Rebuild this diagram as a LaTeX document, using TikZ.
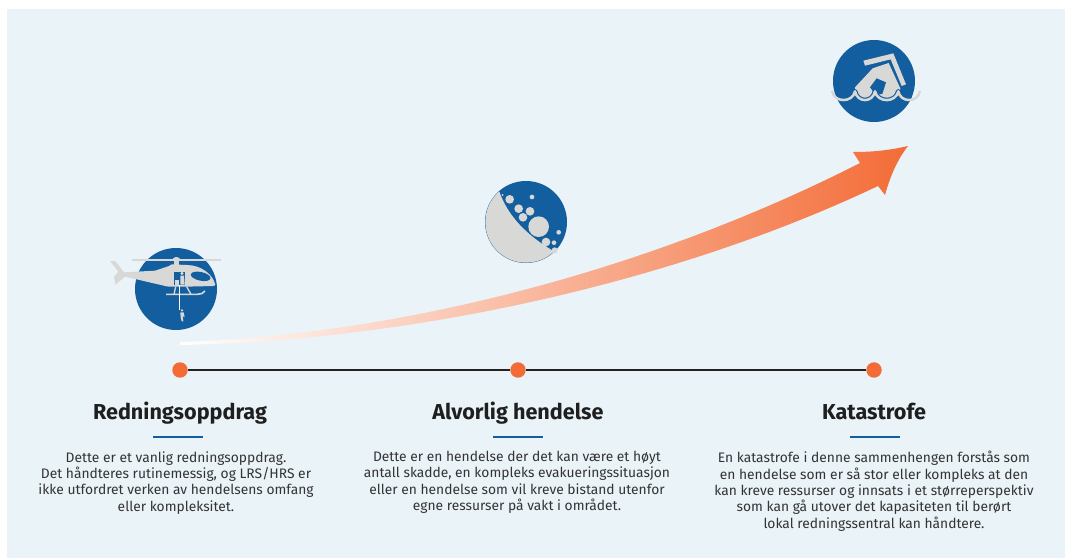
\documentclass[tikz,border=0pt]{standalone}
\usepackage{fontspec}
\setmainfont{Fira Sans}
\usetikzlibrary{positioning}
\usetikzlibrary{calc}

\definecolor{panelbg}{HTML}{EAF3F8}
\definecolor{iconblue}{HTML}{125E9F}
\definecolor{icongrey}{HTML}{D8D8D6}
\definecolor{arroworange}{HTML}{F36C37}
\definecolor{linedark}{HTML}{222222}
\definecolor{bodytext}{HTML}{333333}

\newcommand{\wavepath}{(36,183) .. controls (42,219) and (98,219) .. (105,184)
    .. controls (112,219) and (158,219) .. (165,184)
    .. controls (172,219) and (228,219) .. (235,184)
    .. controls (241,219) and (294,219) .. (300,183)}

\tikzset{
    stagedot/.style={circle,fill=arroworange,draw=none,minimum size=11.6pt,inner sep=0pt},
    stagetitle/.style={font=\fontsize{16.2}{18}\selectfont\bfseries,text=black!88,inner sep=0pt,anchor=base},
    stagetext/.style={font=\fontsize{10.35}{12.25}\selectfont,text=bodytext,align=center,inner sep=0pt,anchor=north},
    stagebar/.style={draw=iconblue,line width=1.9pt},
    iconback/.style={circle,fill=iconblue,draw=none,minimum size=61.5pt,inner sep=0pt},
    greypart/.style={fill=icongrey,draw=none},
    bluepart/.style={fill=iconblue,draw=none},
}

\begin{document}
\begin{tikzpicture}[x=0.75pt,y=-0.75pt]
    \useasboundingbox (0,0) rectangle (1065,558);
    \fill[panelbg] (7,9) rectangle (1065,558);

    % rising arrow
    \shade[left color=white,right color=arroworange,middle color=arroworange!50!white,draw=none]
        (180,342) .. controls (400,335) and (650,270) .. (860,163)
        -- (853,152) .. controls (875,152) and (890,150) .. (908,146)
        .. controls (897,160) and (890,177) .. (885,195)
        -- (878,186) .. controls (680,280) and (420,340) .. (180,345) -- cycle;

    % timeline
    \node[stagedot] (dotRescue) at (180,370) {};
    \node[stagedot] (dotSerious) at (518,370) {};
    \node[stagedot] (dotDisaster) at (874,370) {};
    \draw[linedark,line width=1.9pt] (dotRescue) -- (dotSerious);
    \draw[linedark,line width=1.9pt] (dotSerious) -- (dotDisaster);

    % helicopter
    \node[iconback] (iconRescue) at (176,289) {};
    \begin{scope}[shift={(90,230)},x=0.25pt,y=-0.25pt]
        \draw[icongrey,line width=1.1pt] (125,90) -- (393,90);
        \fill[greypart] (246,90) .. controls (250,78) and (268,78) .. (272,90) -- cycle;
        \fill[greypart] (253,90) rectangle (267,110);
        \fill[greypart] (60,93) -- (76,93) -- (102,127) -- (195,122) -- (237,108) -- (245,103) -- (290,105)
            .. controls (335,105) and (370,135) .. (376,165)
            -- (370,168) -- (285,170) -- (235,170) .. controls (190,160) and (150,150) .. (105,140)
            -- (76,164) -- (72,140) -- (85,125) -- cycle;
        \fill[bluepart] (252,125) rectangle (285,166);
        \fill[bluepart,rotate around={-12:(332,139)}] (332,139) ellipse (30 and 13);
        \fill[greypart] (276,130) circle (5);
        \fill[greypart] (271,137) -- (282,137) -- (284,164) -- (271,164) -- cycle;
        \fill[greypart] (256,150) rectangle (268,164);
        \draw[icongrey,line width=1pt] (257,170) -- (252,193);
        \draw[icongrey,line width=1pt] (290,170) -- (303,193);
        \draw[icongrey,line width=1.2pt] (228,193) -- (322,193) .. controls (332,193) and (340,190) .. (345,183);
        \draw[white,line width=0.4pt] (269,166) -- (269,240);
        \fill[icongrey] (276,241) circle (4);
        \fill[icongrey] (271,247) -- (281,247) -- (284,262) -- (278,258) -- (280,274) -- (275,274) -- (272,262) -- cycle;
    \end{scope}

    % rock slide
    \node[iconback] (iconSerious) at (526,222) {};
    \begin{scope}[shift={(470,170)},x=0.25pt,y=-0.25pt]
        \begin{scope}
            \clip (168,156) circle (122);
            \fill[greypart] (88,65) .. controls (115,140) and (170,195) .. (250,243)
                -- (250,290) -- (30,290) -- (30,65) -- cycle;
        \end{scope}
        \fill[greypart] (119,88) circle (13);
        \fill[greypart] (186,81) circle (7);
        \fill[greypart] (146,116) circle (13);
        \fill[greypart] (180,124) circle (13);
        \fill[greypart] (159,142) circle (13);
        \fill[greypart] (206,170) circle (31);
        \fill[greypart] (228,216) circle (13);
        \fill[greypart] (266,187) circle (7);
        \fill[greypart] (252,218) circle (7);
        \fill[greypart] (254,241) circle (9);
        \fill[greypart] (98,75) circle (3);
    \end{scope}

    % flooded house
    \node[iconback] (iconDisaster) at (874,81) {};
    \begin{scope}[shift={(820,30)},x=0.25pt,y=-0.25pt]
        \fill[greypart] (130,92) -- (220,70) -- (258,163) -- (245,168) -- (212,88) -- (135,107) -- cycle;
        \fill[greypart] (158,115) -- (206,99) -- (241,175) -- (236,205) -- (105,205) -- (105,172) -- cycle;
        \fill[bluepart] (170,145) -- (198,157) -- (187,192) -- (165,192) -- (150,172) -- cycle;
        \begin{scope}
            \clip (163,153) circle (122);
            \fill[iconblue] \wavepath -- (300,260) -- (36,260) -- cycle;
            \draw[iconblue,line width=3.6pt,line join=round] \wavepath;
        \end{scope}
        \draw[icongrey,line width=1.9pt,line join=round] \wavepath;
    \end{scope}

    % stage texts
    \node[stagetitle] (titleRescue) at (180,419) {Redningsoppdrag};
    \node[stagetitle] (titleSerious) at (518,419) {Alvorlig hendelse};
    \node[stagetitle] (titleDisaster) at (874,419) {Katastrofe};
    \coordinate (barRescueL) at (153,437);
    \coordinate (barRescueR) at (203,437);
    \coordinate (barSeriousL) at (493,437);
    \coordinate (barSeriousR) at (543,437);
    \coordinate (barDisasterL) at (850,437);
    \coordinate (barDisasterR) at (900,437);
    \draw[stagebar] (barRescueL) -- (barRescueR);
    \draw[stagebar] (barSeriousL) -- (barSeriousR);
    \draw[stagebar] (barDisasterL) -- (barDisasterR);
    \node[stagetext] (textRescue) at (176,451) {Dette er et vanlig redningsoppdrag.\\Det håndteres rutinemessig, og LRS/HRS er\\ikke utfordret verken av hendelsens omfang\\eller kompleksitet.};
    \node[stagetext] (textSerious) at (517,451) {Dette er en hendelse der det kan være et høyt\\antall skadde, en kompleks evakueringssituasjon\\eller en hendelse som vil kreve bistand utenfor\\egne ressurser på vakt i området.};
    \node[stagetext] (textDisaster) at (874,451) {En katastrofe i denne sammenhengen forstås som\\en hendelse som er så stor eller kompleks at den\\kan kreve ressurser og innsats i et størreperspektiv\\som kan gå utover det kapasiteten til berørt\\lokal redningssentral kan håndtere.};
\end{tikzpicture}
\end{document}
